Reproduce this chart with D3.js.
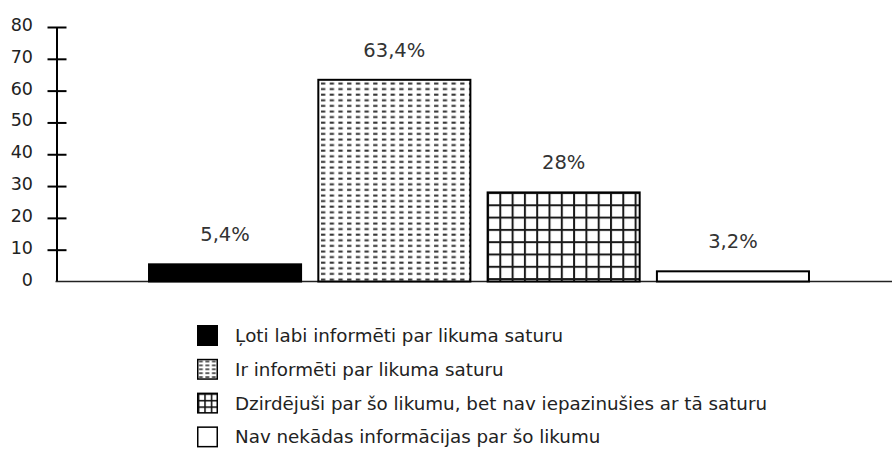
<!DOCTYPE html>
<html>
<head>
<meta charset="utf-8">
<script src="https://cdn.jsdelivr.net/npm/d3@7"></script>
<style>
  html, body { margin: 0; padding: 0; background: #fff; }
  svg { display: block; }
</style>
</head>
<body>
<div id="chart"></div>
<script>
const categories = ["Ļoti labi informēti par likuma saturu", "Ir informēti par likuma saturu", "Dzirdējuši par šo likumu, bet nav iepazinušies ar tā saturu", "Nav nekādas informācijas par šo likumu"];
const values = [5.4, 63.4, 28, 3.2];
const valueLabels = ["5,4%", "63,4%", "28%", "3,2%"];
const fills = ["solid", "dots", "grid", "empty"];
const yTicks = [0, 10, 20, 30, 40, 50, 60, 70, 80];

const W = 892, H = 452;
const svg = d3.select("#chart").append("svg").attr("width", W).attr("height", H);

const defs = svg.append("defs");
// dotted (dashes) pattern
const pd = defs.append("pattern").attr("id", "pat-dots").attr("patternUnits", "userSpaceOnUse")
  .attr("x", 320).attr("y", 81).attr("width", 8.7).attr("height", 5.6);
pd.append("rect").attr("width", 8.7).attr("height", 5.6).attr("fill", "#fff");
pd.append("rect").attr("x", 1).attr("y", 1.5).attr("width", 4.3).attr("height", 2).attr("fill", "#333");
// grid pattern
const pg = defs.append("pattern").attr("id", "pat-grid").attr("patternUnits", "userSpaceOnUse")
  .attr("x", 487).attr("y", 192).attr("width", 12.3).attr("height", 12.3);
pg.append("rect").attr("width", 12.3).attr("height", 12.3).attr("fill", "#fff");
pg.append("rect").attr("x", 0).attr("y", 0).attr("width", 2).attr("height", 12.3).attr("fill", "#1a1a1a");
pg.append("rect").attr("x", 0).attr("y", 0).attr("width", 12.3).attr("height", 2).attr("fill", "#1a1a1a");
// legend patterns
const ld = defs.append("pattern").attr("id", "leg-dots").attr("patternUnits", "objectBoundingBox")
  .attr("patternContentUnits", "objectBoundingBox").attr("width", 1 / 3).attr("height", 1 / 5);
ld.append("rect").attr("width", 1 / 3).attr("height", 1 / 5).attr("fill", "#fff");
ld.append("rect").attr("x", 0.06).attr("y", 0.06).attr("width", 0.2).attr("height", 0.08).attr("fill", "#333");
const lg = defs.append("pattern").attr("id", "leg-grid").attr("patternUnits", "objectBoundingBox")
  .attr("patternContentUnits", "objectBoundingBox").attr("width", 1 / 3).attr("height", 1 / 3);
lg.append("rect").attr("width", 1 / 3).attr("height", 1 / 3).attr("fill", "#fff");
lg.append("rect").attr("width", 0.08).attr("height", 1 / 3).attr("fill", "#111");
lg.append("rect").attr("width", 1 / 3).attr("height", 0.08).attr("fill", "#111");

const fillFor = f => f === "solid" ? "#000" : f === "dots" ? "url(#pat-dots)" : f === "grid" ? "url(#pat-grid)" : "#fff";
const legFillFor = f => f === "solid" ? "#000" : f === "dots" ? "url(#leg-dots)" : f === "grid" ? "url(#leg-grid)" : "#fff";

const y = d3.scaleLinear().domain([0, 80]).range([281.5, 27]);
const x = d3.scaleBand().domain(categories).range([140.4, 817.6]).paddingInner(0.09).paddingOuter(0.045);

// Y axis
const yAxis = d3.axisLeft(y).tickValues(yTicks).tickSize(0).tickFormat(d => d);
const gy = svg.append("g").attr("transform", "translate(56.5,0)").call(yAxis);
gy.select(".domain").attr("stroke", "#000").attr("stroke-width", 2);
gy.selectAll(".tick text").attr("x", -23.5).attr("dy", null).attr("y", 3.5)
  .attr("font-family", "'DejaVu Sans', sans-serif").attr("font-size", 17.5).attr("fill", "#222");
// tick marks crossing axis
gy.selectAll(".tick").filter(d => d !== 0).append("line")
  .attr("x1", -9).attr("x2", 10).attr("stroke", "#000").attr("stroke-width", 2);

// baseline
svg.append("line").attr("x1", 55.5).attr("x2", W).attr("y1", y(0)).attr("y2", y(0))
  .attr("stroke", "#222").attr("stroke-width", 1.6);

// bars
svg.append("g").selectAll("rect").data(categories).join("rect")
  .attr("x", d => x(d) + 1)
  .attr("y", (d, i) => y(values[i]))
  .attr("width", x.bandwidth() - 2)
  .attr("height", (d, i) => y(0) - y(values[i]))
  .attr("fill", (d, i) => fillFor(fills[i]))
  .attr("stroke", "#000").attr("stroke-width", 2);

// value labels
svg.append("g").selectAll("text").data(categories).join("text")
  .attr("x", d => x(d) + x.bandwidth() / 2)
  .attr("y", (d, i) => y(values[i]) - 23)
  .attr("text-anchor", "middle")
  .attr("font-family", "'DejaVu Sans', sans-serif").attr("font-size", 19.5)
  .attr("fill", "#333")
  .text((d, i) => valueLabels[i]);

// legend
const leg = svg.append("g").selectAll("g").data(categories).join("g")
  .attr("transform", (d, i) => `translate(197,${325 + i * 33.8})`);
leg.append("rect").attr("x", 0.75).attr("y", 0.75).attr("width", 19.5).attr("height", 19.5)
  .attr("fill", (d, i) => legFillFor(fills[i])).attr("stroke", "#000").attr("stroke-width", 1.5);
leg.append("text").attr("x", 38).attr("y", 17)
  .attr("font-family", "'DejaVu Sans', sans-serif").attr("font-size", 18.3)
  .attr("fill", "#222").text(d => d);
</script>
</body>
</html>
